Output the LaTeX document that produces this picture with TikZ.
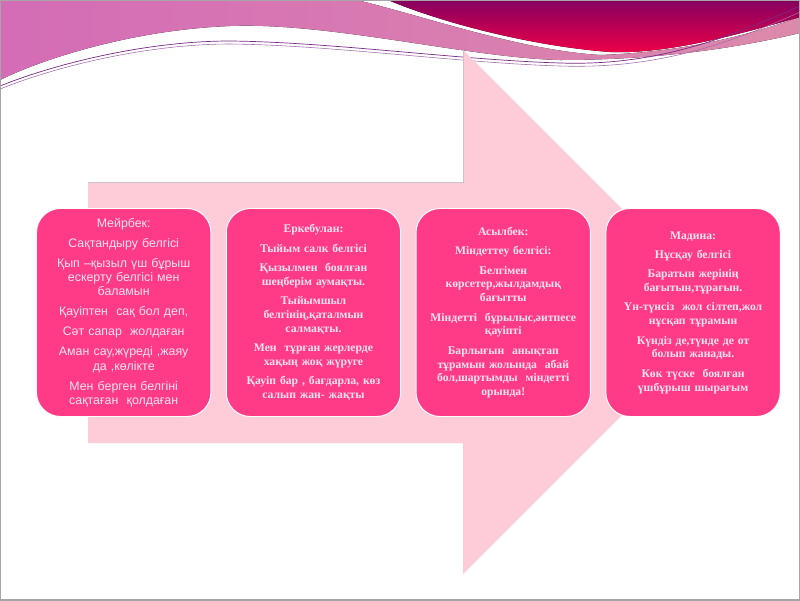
\documentclass[tikz,border=0pt]{standalone}
\usepackage{fontspec}
\setmainfont{Liberation Serif}
\newfontfamily\cardsans{Liberation Sans}
\usepackage{tikz}
\usetikzlibrary{positioning}
\definecolor{arrowpk}{HTML}{FDCCD8}
\definecolor{cardpk}{HTML}{FF3A87}
\definecolor{cardtx}{HTML}{FFE3EE}
\definecolor{bandL}{HTML}{D46CB6}
\definecolor{bandR}{HTML}{DC8AAC}
\definecolor{wineT}{HTML}{86005F}
\definecolor{wineB}{HTML}{F00048}
\definecolor{wire}{HTML}{7A2A86}
\tikzset{
  card/.style={rectangle,rounded corners=6mm,fill=cardpk,draw=white,line width=0.7pt,
    minimum width=43.6mm,minimum height=52mm,text width=41mm,align=center,
    text=cardtx,font=\bfseries\fontsize{8.3}{9.8}\selectfont},
  gap/.style={node distance=3.6mm}
}
\newcommand{\slidetop}{%
  \fill[left color=bandL,right color=bandR]
    (0,0) -- (357,0) .. controls (430,18) and (520,50) .. (600,55)
    .. controls (680,52) and (740,38) .. (800,17) -- (800,33)
    .. controls (720,52) and (640,60) .. (560,60)
    .. controls (470,58) and (330,22) .. (230,26)
    .. controls (130,30) and (40,60) .. (0,80) -- cycle;
  \fill[top color=wineT,bottom color=wineB]
    (388,0) -- (800,0) -- (800,17) .. controls (720,40) and (660,54) .. (610,52)
    .. controls (530,46) and (440,22) .. (388,0) -- cycle;
  \draw[wire,line width=0.5pt]
    (0,86) .. controls (60,62) and (150,41) .. (230,41)
    .. controls (330,42) and (460,60) .. (560,63)
    .. controls (650,66) and (720,42) .. (800,6);
  \draw[wire!70,line width=0.4pt]
    (0,89) .. controls (60,65) and (150,44) .. (230,44)
    .. controls (330,45) and (460,63) .. (560,66)
    .. controls (650,69) and (720,48) .. (800,12);
}

\begin{document}
\begin{tikzpicture}[x=0.25mm,y=-0.25mm]
\useasboundingbox (0,0) rectangle (800,600);
\fill[white] (0,0) rectangle (800,600);
\slidetop
% big arrow behind the cards
\fill[arrowpk] (88,182) -- (463,182) -- (463,50) -- (725,312) -- (463,574)
  -- (463,443) -- (88,443) -- cycle;
\draw[gray!45,line width=0.4pt] (88,182) -- (463,182) -- (463,50);
% cards
\node[card,anchor=north west,font=\cardsans\fontsize{8.8}{10.2}\selectfont] (meir) at (36,208)
  {Мейрбек:\\[4pt]
   Сақтандыру белгісі\\[4pt]
   Қып –қызыл үш бұрыш\\ескерту белгісі мен\\баламын\\[4pt]
   Қауіптен\ \ сақ бол деп,\\[4pt]
   Сәт сапар\ \ жолдаған\\[4pt]
   Аман сау,жүреді ,жаяу\\да ,көлікте\\[4pt]
   Мен берген белгіні\\сақтаған\ \ қолдаған};
\node[card,gap,right=of meir] (erke)
  {Еркебулан:\\[4pt]
   Тыйым салк белгісі\\[4pt]
   Қызылмен\ \ боялған\\шеңберім аумақты.\\[4pt]
   Тыйымшыл\\белгінің,қаталмын\\салмақты.\\[4pt]
   Мен\ \ тұрған жерлерде\\хақың жоқ жүруге\\[4pt]
   Қауіп бар , бағдарла, көз\\салып жан- жақты};
\node[card,gap,right=of erke] (asyl)
  {Асылбек:\\[4pt]
   Міндеттеу белгісі:\\[4pt]
   Белгімен\\көрсетер,жылдамдық\\бағытты\\[4pt]
   Міндетті\ \ бұрылыс,әитпесе\\қауіпті\\[4pt]
   Барлығын\ \ анықтап\\тұрамын жолында\ \ абай\\бол,шартымды\ \ міндетті\\орында!};
\node[card,gap,right=of asyl] (madi)
  {Мадина:\\[4pt]
   Нұсқау белгісі\\[4pt]
   Баратын жерінің\\бағытын,тұрағын.\\[4pt]
   Үн-түнсіз\ \ жол сілтеп,жол\\нұсқап тұрамын\\[4pt]
   Күндіз де,түнде де от\\болып жанады.\\[4pt]
   Көк түске\ \ боялған\\үшбұрыш шырағым};
\draw[gray!70,line width=0.8pt] (0,0) rectangle (800,600);
\end{tikzpicture}
\end{document}
